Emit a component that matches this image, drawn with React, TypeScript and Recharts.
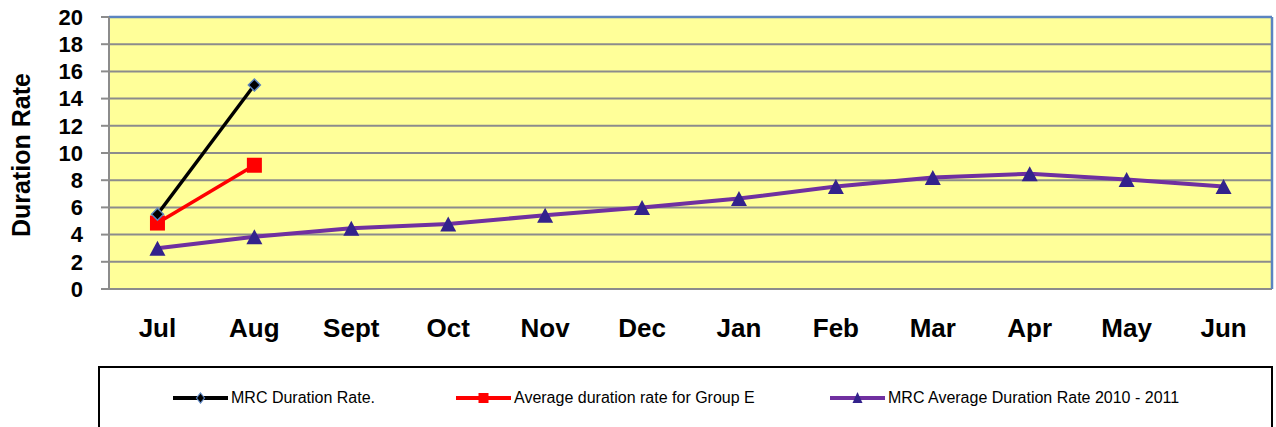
import React from "react";
import {
  LineChart,
  Line,
  XAxis,
  YAxis,
  CartesianGrid,
  ReferenceLine,
  Legend,
  Label,
} from "recharts";

const months = ["Jul", "Aug", "Sept", "Oct", "Nov", "Dec", "Jan", "Feb", "Mar", "Apr", "May", "Jun"];
const mrcDurationRate: (number | null)[] = [5.5, 15.0, null, null, null, null, null, null, null, null, null, null];
const groupEAverage: (number | null)[] = [4.85, 9.1, null, null, null, null, null, null, null, null, null, null];
const mrcAverage2010: number[] = [3.0, 3.85, 4.47, 4.78, 5.42, 6.0, 6.65, 7.53, 8.19, 8.48, 8.05, 7.53];
const yTicks = [0, 2, 4, 6, 8, 10, 12, 14, 16, 18, 20];
const xBoundaryTicks = [0, 1, 2, 3, 4, 5, 6, 7, 8, 9, 10, 11, 12];
const xCenterTicks = months.map((_, i) => i + 0.5);

const seriesNames = {
  mrc: "MRC Duration Rate.",
  grp: "Average duration rate for Group E",
  avg: "MRC Average Duration Rate 2010 - 2011",
};

const data = months.map((m, i) => ({
  month: m,
  x: i + 0.5,
  mrc: mrcDurationRate[i],
  grp: groupEAverage[i],
  avg: mrcAverage2010[i],
}));

const GRID = "#8c8c8c";
const BLUE = "#5b84c0";
const PURPLE = "#7030a0";
const TRI = "#33228c";
const FONT = "'Liberation Sans', Arial, sans-serif";

const Diamond = (props: any) => {
  const { cx, cy, key } = props;
  if (cx == null || cy == null) return <g key={key} />;
  const r = 6;
  return (
    <polygon
      key={key}
      points={`${cx},${cy - r} ${cx + r},${cy} ${cx},${cy + r} ${cx - r},${cy}`}
      fill="#000"
      stroke={BLUE}
      strokeWidth={1.5}
    />
  );
};

const Square = (props: any) => {
  const { cx, cy, key } = props;
  if (cx == null || cy == null) return <g key={key} />;
  const s = 7.5;
  return <rect key={key} x={cx - s} y={cy - s} width={s * 2} height={s * 2} fill="#ff0000" />;
};

const Triangle = (props: any) => {
  const { cx, cy, key } = props;
  if (cx == null || cy == null) return <g key={key} />;
  const w = 8;
  const h = 7.5;
  return (
    <polygon
      key={key}
      points={`${cx},${cy - h} ${cx + w},${cy + h} ${cx - w},${cy + h}`}
      fill={TRI}
    />
  );
};

const legendItems = [
  { key: "mrc", color: "#000", marker: "diamond" },
  { key: "grp", color: "#ff0000", marker: "square" },
  { key: "avg", color: PURPLE, marker: "triangle" },
];

const LegendMarker = ({ color, marker }: { color: string; marker: string }) => (
  <svg width={55} height={14} style={{ display: "block" }}>
    <line x1={0} y1={7} x2={55} y2={7} stroke={color} strokeWidth={4} />
    {marker === "diamond" && (
      <polygon points="27.5,2 31.5,7 27.5,12 23.5,7" fill="#000" stroke={BLUE} strokeWidth={1.2} />
    )}
    {marker === "square" && <rect x={22.5} y={2} width={10} height={10} fill="#ff0000" />}
    {marker === "triangle" && <polygon points="27.5,1 32.5,12 22.5,12" fill={TRI} />}
  </svg>
);

const LegendContent = (props: any) => {
  const payload: any[] = props.payload || [];
  const byKey: Record<string, any> = {};
  payload.forEach((p) => (byKey[p.dataKey] = p));
  const lefts = [73, 356, 730];
  return (
    <div
      style={{
        position: "relative",
        width: 1171,
        height: 59,
        borderTop: "2px solid #000",
        borderLeft: "2px solid #000",
        borderRight: "2px solid #000",
        background: "#fff",
        fontFamily: FONT,
        fontSize: 16,
        color: "#000",
      }}
    >
      {legendItems.map((it, i) => (
        <div
          key={it.key}
          style={{
            position: "absolute",
            left: lefts[i],
            top: 21,
            height: 18,
            display: "flex",
            alignItems: "center",
            whiteSpace: "nowrap",
            lineHeight: "18px",
          }}
        >
          <LegendMarker color={it.color} marker={it.marker} />
          <span style={{ marginLeft: 3 }}>
            {(byKey[it.key] && byKey[it.key].value) || (seriesNames as any)[it.key]}
          </span>
        </div>
      ))}
    </div>
  );
};

const YTitle = (props: any) => {
  const vb = props.viewBox || { x: 0, y: 17, width: 109, height: 272 };
  const x = vb.x + 21;
  const y = vb.y + vb.height / 2 + 2;
  return (
    <text
      x={x}
      y={y}
      transform={`rotate(-90 ${x} ${y})`}
      textAnchor="middle"
      dominantBaseline="central"
      fontFamily={FONT}
      fontWeight="bold"
      fontSize={25}
      fill="#000"
    >
      Duration Rate
    </text>
  );
};

export default function App() {
  return (
    <div style={{ position: "absolute", left: 0, top: 0, width: 1276, height: 427, background: "#fff", overflow: "hidden" }}>
      <LineChart
        width={1276}
        height={427}
        data={data}
        margin={{ top: 17, right: 4, left: 0, bottom: 0 }}
      >
        <CartesianGrid
          xAxisId="num"
          vertical={false}
          fill="#ffff99"
          fillOpacity={1}
          stroke={GRID}
          strokeWidth={2}
        />
        <XAxis
          xAxisId="num"
          type="number"
          dataKey="x"
          domain={[0, 12]}
          ticks={xBoundaryTicks}
          tickFormatter={() => ""}
          height={10}
          tickSize={8}
          axisLine={{ stroke: GRID, strokeWidth: 2 }}
          tickLine={{ stroke: GRID, strokeWidth: 2 }}
          allowDataOverflow
        />
        <XAxis
          xAxisId="lab"
          type="number"
          dataKey="x"
          domain={[0, 12]}
          ticks={xCenterTicks}
          tickFormatter={(v: number) => months[Math.round(v - 0.5)] ?? ""}
          height={128}
          axisLine={false}
          tickLine={false}
          tickSize={0}
          tickMargin={30}
          interval={0}
          allowDataOverflow
          tick={{
            fill: "#000",
            fontSize: 26,
            fontWeight: "bold",
            fontFamily: FONT,
          }}
        />
        <YAxis
          domain={[0, 20]}
          ticks={yTicks}
          width={109}
          tickSize={8}
          tickMargin={18}
          interval={0}
          axisLine={{ stroke: GRID, strokeWidth: 2 }}
          tickLine={{ stroke: GRID, strokeWidth: 2 }}
          tick={{
            fill: "#000",
            fontSize: 22,
            fontWeight: "bold",
            fontFamily: FONT,
          }}
          label={<Label content={YTitle} />}
        />
        <ReferenceLine xAxisId="num" y={20} stroke={BLUE} strokeWidth={2.5} />
        <ReferenceLine xAxisId="num" x={12} stroke={BLUE} strokeWidth={2.5} />
        <Legend
          layout="horizontal"
          verticalAlign="middle"
          align="center"
          content={LegendContent}
          wrapperStyle={{ left: 98, top: 366, width: 1175, height: 61, bottom: "auto", right: "auto" }}
        />
        <Line
          xAxisId="num"
          dataKey="avg"
          name={seriesNames.avg}
          stroke={PURPLE}
          strokeWidth={4}
          dot={Triangle}
          isAnimationActive={false}
        />
        <Line
          xAxisId="num"
          dataKey="grp"
          name={seriesNames.grp}
          stroke="#ff0000"
          strokeWidth={3.5}
          dot={Square}
          isAnimationActive={false}
        />
        <Line
          xAxisId="num"
          dataKey="mrc"
          name={seriesNames.mrc}
          stroke="#000"
          strokeWidth={3.5}
          dot={Diamond}
          isAnimationActive={false}
        />
      </LineChart>
    </div>
  );
}
